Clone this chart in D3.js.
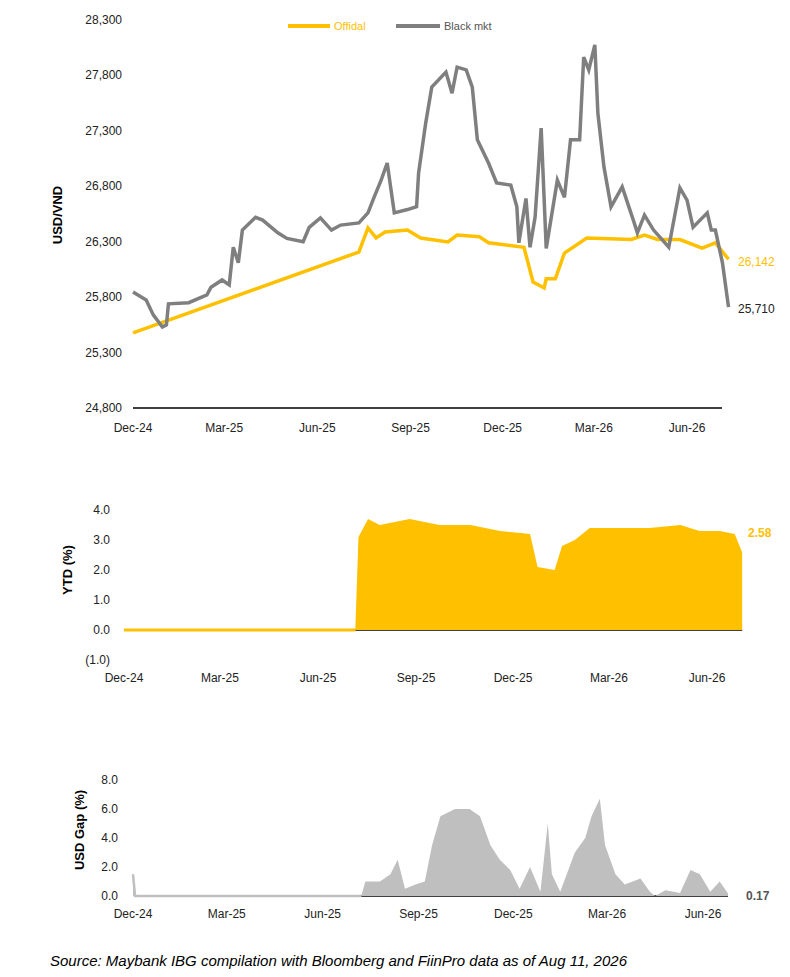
<!DOCTYPE html>
<html>
<head>
<meta charset="utf-8">
<script src="https://cdn.jsdelivr.net/npm/d3@7"></script>
<style>
  body { margin: 0; background: #fff; }
  text { font-family: "Liberation Sans", Arial, sans-serif; }
</style>
</head>
<body>
<div id="chart"></div>
<script>
//************************************************************************
// data (days counted from 1 Dec 2024)
//************************************************************************
var startDate = new Date(2024, 11, 1);
var tickLabels = ["Dec-24", "Mar-25", "Jun-25", "Sep-25", "Dec-25", "Mar-26", "Jun-26"];
var tickDays = [0, 90, 182, 274, 365, 455, 547];

var blackDays = [0, 13, 20, 29, 33, 35, 55, 73, 77, 88, 95, 99, 104, 108, 121, 128, 143, 152, 168, 174, 185, 196, 205, 223, 232, 238, 245, 251, 258, 271, 280, 282, 289, 295, 309, 315, 320, 329, 335, 340, 351, 359, 373, 379, 381, 388, 392, 397, 403, 408, 419, 426, 432, 441, 445, 450, 456, 459, 465, 472, 483, 494, 498, 505, 514, 529, 540, 547, 553, 567, 571, 575, 582, 588];
var blackVals = [25847, 25775, 25640, 25530, 25550, 25740, 25750, 25820, 25890, 25955, 25910, 26250, 26110, 26405, 26520, 26495, 26380, 26330, 26300, 26430, 26515, 26405, 26450, 26470, 26560, 26700, 26855, 27010, 26560, 26590, 26615, 26920, 27370, 27695, 27830, 27640, 27875, 27850, 27695, 27220, 27010, 26830, 26810, 26615, 26290, 26690, 26250, 26520, 27325, 26240, 26855, 26700, 27220, 27220, 27965, 27850, 28075, 27460, 26975, 26615, 26795, 26495, 26380, 26540, 26405, 26250, 26785, 26675, 26430, 26560, 26405, 26405, 26110, 25710];

var offDays = [0, 223, 232, 240, 249, 271, 284, 311, 320, 342, 351, 386, 395, 406, 408, 417, 426, 448, 492, 505, 518, 540, 562, 575, 588];
var offVals = [25477, 26207, 26424, 26334, 26388, 26405, 26334, 26298, 26360, 26345, 26290, 26250, 25937, 25883, 25965, 25965, 26198, 26334, 26320, 26360, 26320, 26320, 26243, 26290, 26142];

var ytdDays = [0, 217, 220, 229, 240, 268, 296, 325, 353, 381, 388, 404, 411, 423, 437, 465, 493, 522, 540, 559, 573, 580];
var ytdVals = [0, 0, 3.1, 3.7, 3.5, 3.7, 3.5, 3.5, 3.3, 3.2, 2.1, 2.0, 2.8, 3.0, 3.4, 3.4, 3.4, 3.5, 3.3, 3.3, 3.2, 2.58];

var gapDays = [0, 2, 219, 223, 237, 247, 254, 261, 271, 280, 287, 295, 309, 323, 333, 343, 352, 362, 371, 381, 391, 398, 402, 410, 424, 434, 440, 448, 453, 463, 472, 487, 496, 501, 511, 525, 535, 544, 554, 563, 571];
var gapVals = [1.5, 0, 0, 1.0, 1.0, 1.5, 2.5, 0.5, 0.8, 1.0, 3.5, 5.5, 6.0, 6.0, 5.5, 3.5, 2.5, 1.8, 0.5, 2.0, 0.3, 5.0, 1.5, 0.3, 3.0, 4.0, 5.5, 6.7, 3.5, 1.5, 0.8, 1.2, 0.3, 0, 0.4, 0.2, 1.8, 1.5, 0.3, 1.0, 0.17];

var ORANGE = "#FFC000", GREY = "#7f7f7f";
var toDate = d => d3.timeDay.offset(startDate, d);
var zip = (ds, vs) => ds.map((d, i) => ({ date: toDate(d), v: vs[i] }));

var svg = d3.select("#chart").append("svg").attr("width", 790).attr("height", 977);

function xScaleFor(x0, x547) {
  return d3.scaleTime().domain([toDate(0), toDate(547)]).range([x0, x547]);
}
function xTicks(x, y) {
  svg.append("g").selectAll("text").data(tickDays).join("text")
    .attr("x", d => x(toDate(d))).attr("y", y)
    .attr("text-anchor", "middle").attr("font-size", 12).attr("fill", "#222")
    .text((d, i) => tickLabels[i]);
}
function yTicks(y, vals, fmt, xr) {
  svg.append("g").selectAll("text").data(vals).join("text")
    .attr("x", xr).attr("y", d => y(d) + 4)
    .attr("text-anchor", "end").attr("font-size", 12).attr("fill", "#222")
    .text(fmt);
}
function yTitle(txt, x, y) {
  svg.append("text").attr("transform", `translate(${x},${y}) rotate(-90)`)
    .attr("text-anchor", "middle").attr("font-size", 13).attr("font-weight", "bold").text(txt);
}

//************************************************************************
// top chart: USD/VND
//************************************************************************
var x1 = xScaleFor(133, 687);
var y1 = d3.scaleLinear().domain([24800, 28300]).range([408, 20]);
yTicks(y1, d3.range(24800, 28301, 500), d3.format(","), 122);
xTicks(x1, 432);
yTitle("USD/VND", 62, 215);
svg.append("line").attr("x1", 133).attr("x2", 722).attr("y1", y1(24800)).attr("y2", y1(24800))
  .attr("stroke", "#000").attr("stroke-width", 1.5);

var line1 = d3.line().x(d => x1(d.date)).y(d => y1(d.v));
svg.append("path").datum(zip(offDays, offVals)).attr("d", line1)
  .attr("fill", "none").attr("stroke", ORANGE).attr("stroke-width", 3.5);
svg.append("path").datum(zip(blackDays, blackVals)).attr("d", line1)
  .attr("fill", "none").attr("stroke", GREY).attr("stroke-width", 3.5);
svg.append("text").attr("x", 738).attr("y", 266).attr("font-size", 12).attr("fill", ORANGE).text("26,142");
svg.append("text").attr("x", 738).attr("y", 313).attr("font-size", 12).attr("fill", "#222").text("25,710");

// legend
svg.append("line").attr("x1", 288).attr("x2", 330).attr("y1", 26).attr("y2", 26).attr("stroke", ORANGE).attr("stroke-width", 4);
svg.append("text").attr("x", 334).attr("y", 30).attr("font-size", 11).attr("fill", ORANGE).text("Offidal");
svg.append("line").attr("x1", 396).attr("x2", 440).attr("y1", 26).attr("y2", 26).attr("stroke", GREY).attr("stroke-width", 4);
svg.append("text").attr("x", 444).attr("y", 30).attr("font-size", 11).attr("fill", "#555").text("Black mkt");

//************************************************************************
// middle chart: YTD
//************************************************************************
var x2 = xScaleFor(124, 707);
var y2 = d3.scaleLinear().domain([-1, 4]).range([660, 510]);
yTicks(y2, [-1, 0, 1, 2, 3, 4], d => d < 0 ? "(" + d3.format(".1f")(-d) + ")" : d3.format(".1f")(d), 110);
xTicks(x2, 682);
yTitle("YTD (%)", 72, 570);
var ytd = zip(ytdDays, ytdVals);
svg.append("line").attr("x1", x2(toDate(217))).attr("x2", x2(toDate(580))).attr("y1", y2(0)).attr("y2", y2(0))
  .attr("stroke", "#000").attr("stroke-width", 1.5);
svg.append("path").datum(ytd)
  .attr("d", d3.area().x(d => x2(d.date)).y0(y2(0)).y1(d => y2(d.v)))
  .attr("fill", ORANGE);
svg.append("path").datum(ytd.slice(0, 2))
  .attr("d", d3.line().x(d => x2(d.date)).y(d => y2(d.v)))
  .attr("stroke", ORANGE).attr("stroke-width", 3);
svg.append("text").attr("x", 748).attr("y", 537).attr("font-size", 12).attr("font-weight", "bold").attr("fill", ORANGE).text("2.58");

//************************************************************************
// bottom chart: gap
//************************************************************************
var x3 = xScaleFor(133, 703);
var y3 = d3.scaleLinear().domain([0, 8]).range([896, 780]);
yTicks(y3, [0, 2, 4, 6, 8], d3.format(".1f"), 118);
xTicks(x3, 918);
yTitle("USD Gap (%)", 84, 830);
var gap = zip(gapDays, gapVals);
svg.append("line").attr("x1", x3(toDate(219))).attr("x2", x3(toDate(571))).attr("y1", y3(0)).attr("y2", y3(0))
  .attr("stroke", "#000").attr("stroke-width", 1.5);
svg.append("path").datum(gap)
  .attr("d", d3.area().x(d => x3(d.date)).y0(y3(0)).y1(d => y3(d.v)))
  .attr("fill", "#bfbfbf");
svg.append("path").datum(gap.slice(0, 3))
  .attr("d", d3.line().x(d => x3(d.date)).y(d => y3(d.v)))
  .attr("fill", "none").attr("stroke", "#bfbfbf").attr("stroke-width", 2.5);
svg.append("text").attr("x", 746).attr("y", 900).attr("font-size", 12).attr("font-weight", "bold").attr("fill", "#555").text("0.17");

svg.append("text").attr("x", 50).attr("y", 966).attr("font-size", 15).attr("font-style", "italic")
  .text("Source: Maybank IBG compilation with Bloomberg and FiinPro data as of Aug 11, 2026");
</script>
</body>
</html>
